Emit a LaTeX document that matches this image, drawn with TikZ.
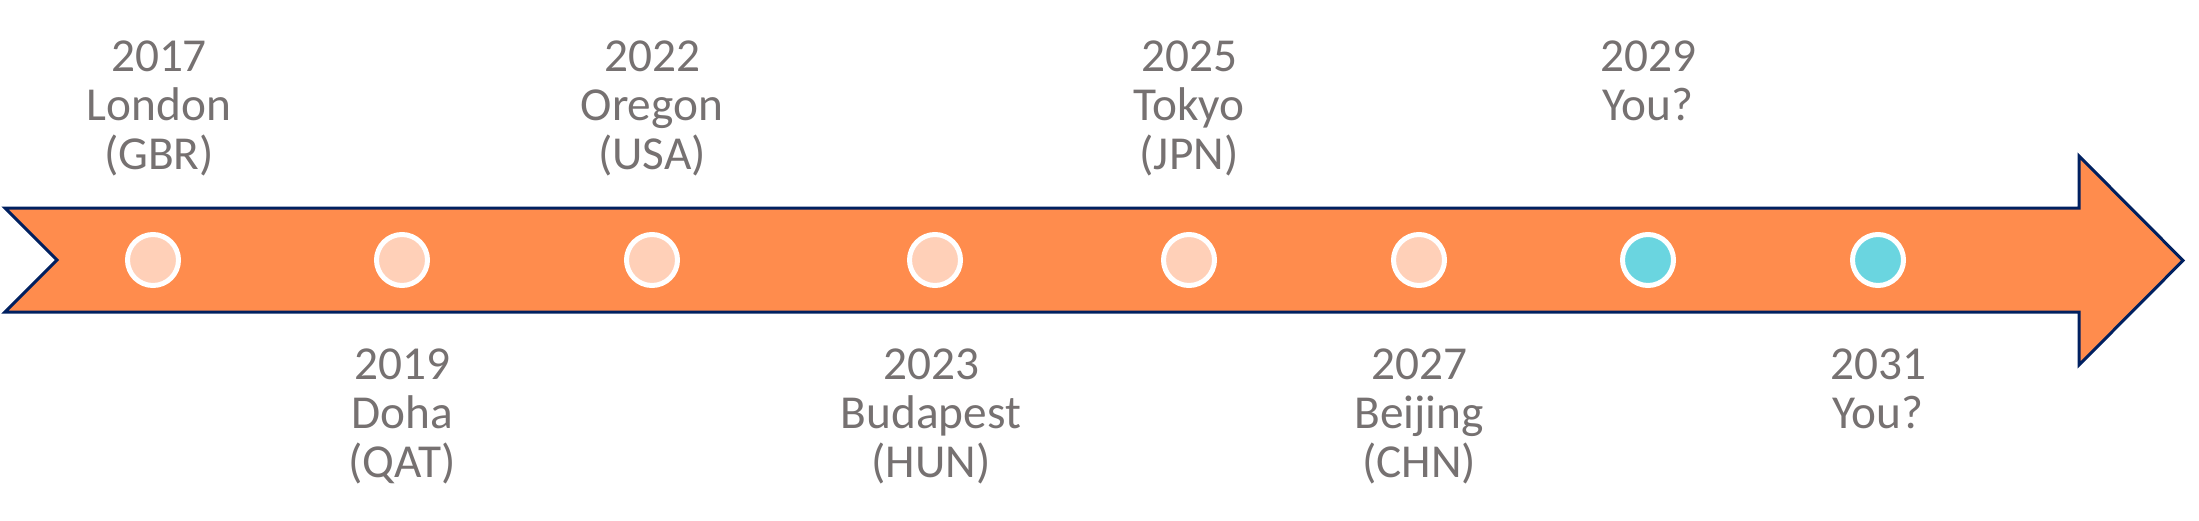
\documentclass[tikz,border=0pt]{standalone}
\usepackage{fontspec}
\setmainfont{Carlito}
\definecolor{arroworange}{HTML}{FF8C4D}
\definecolor{arrowline}{HTML}{002060}
\definecolor{pastdot}{HTML}{FFD0B8}
\definecolor{futuredot}{HTML}{6AD5E0}
\definecolor{labelgray}{HTML}{767171}
\tikzset{
	dot/.style={circle, draw=white, line width=2.5pt, minimum size=25.5pt, inner sep=0pt},
	yearlabel/.style={anchor=north, align=center, inner sep=0pt, text=labelgray,
		font=\fontsize{23.65pt}{24.5pt}\selectfont},
}
\begin{document}
\begin{tikzpicture}[x=0.5pt,y=-0.5pt]
	\useasboundingbox (0,0) rectangle (2199,520);

	\draw[line width=1.5pt, draw=arrowline, fill=arroworange] (5,208) -- (2079,208) -- (2079,156) -- (2183,260.5) -- (2079,365) -- (2079,312) -- (5,312) -- (57,260) -- cycle;

	\foreach \x/\c/\n in {153/pastdot/a, 402/pastdot/b, 652/pastdot/c, 935/pastdot/d, 1189/pastdot/e, 1419/pastdot/f, 1648/futuredot/g, 1878/futuredot/h}
	   \node[dot, fill=\c] (\n) at (\x,260) {};

	\coordinate (top) at (0,40);
	\coordinate (bottom) at (0,348);

	% above the arrow
	\node[yearlabel] (la) at ([xshift=3pt]a |- top) {2017\\London\\(GBR)};
	\node[yearlabel] (lc) at (c |- top) {2022\\Oregon\\(USA)};
	\node[yearlabel] (le) at (e |- top) {2025\\Tokyo\\(JPN)};
	\node[yearlabel] (lg) at (g |- top) {2029\\You?};
	% below the arrow
	\node[yearlabel] (lb) at (b |- bottom) {2019\\Doha\\(QAT)};
	\node[yearlabel] (ld) at ([xshift=-2pt]d |- bottom) {2023\\Budapest\\(HUN)};
	\node[yearlabel] (lf) at (f |- bottom) {2027\\Beijing\\(CHN)};
	\node[yearlabel] (lh) at (h |- bottom) {2031\\You?};

\end{tikzpicture}
\end{document}
